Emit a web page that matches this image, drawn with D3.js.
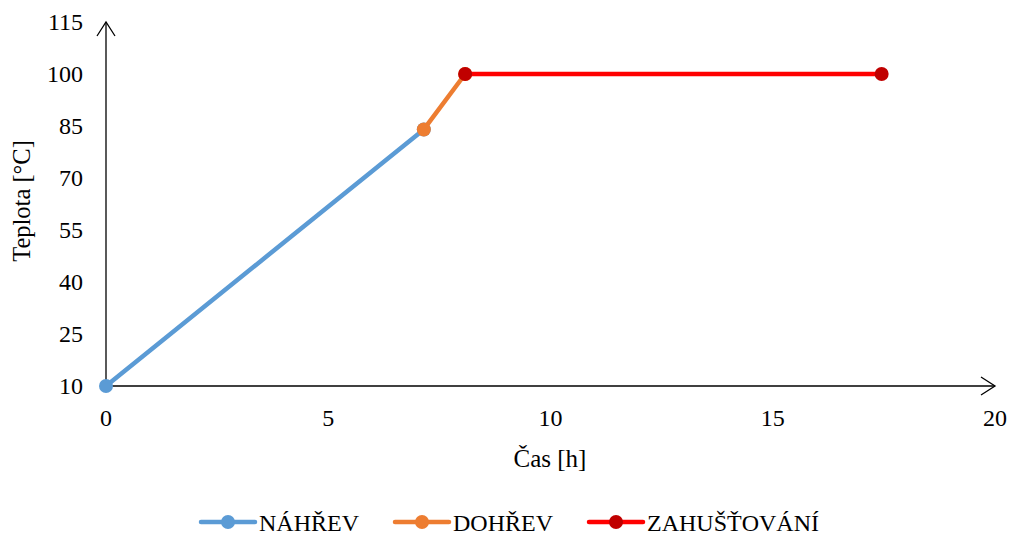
<!DOCTYPE html>
<html>
<head>
<meta charset="utf-8">
<script src="https://cdn.jsdelivr.net/npm/d3@7"></script>
<style>
  html, body { margin: 0; padding: 0; background: #fff; }
  svg text { font-family: "Liberation Serif", "Times New Roman", serif; fill: #000; }
</style>
</head>
<body>
<svg id="chart" width="1013" height="536"></svg>
<script>
// Process stages: time [h] and temperature [°C]
const seriesNames = ["NÁHŘEV", "DOHŘEV", "ZAHUŠŤOVÁNÍ"];
const nahrevTime = [0, 7.15];
const nahrevTemp = [10, 84];
const dohrevTime = [7.15, 8.08];
const dohrevTemp = [84, 100];
const zahustTime = [8.08, 17.45];
const zahustTemp = [100, 100];
const xTicks = [0, 5, 10, 15, 20];
const yTicks = [10, 25, 40, 55, 70, 85, 100, 115];

const lineColors = ["#5B9BD5", "#ED7D31", "#FF0000"];
const markerColors = ["#5B9BD5", "#ED7D31", "#C00000"];

const series = [
  { name: seriesNames[0], pts: nahrevTime.map((t, i) => [t, nahrevTemp[i]]) },
  { name: seriesNames[1], pts: dohrevTime.map((t, i) => [t, dohrevTemp[i]]) },
  { name: seriesNames[2], pts: zahustTime.map((t, i) => [t, zahustTemp[i]]) }
];

const svg = d3.select("#chart");
const x = d3.scaleLinear().domain([0, 20]).range([106, 995]);
const y = d3.scaleLinear().domain([10, 115]).range([386, 22]);

// Axes with open arrow heads, no tick marks
const axes = svg.append("g").attr("stroke", "#000").attr("stroke-width", 1.3).attr("fill", "none");
axes.append("line").attr("x1", x(0)).attr("x2", x(20)).attr("y1", y(10)).attr("y2", y(10));
axes.append("line").attr("x1", x(0)).attr("x2", x(0)).attr("y1", y(10)).attr("y2", y(115));
axes.append("path").attr("d", `M${x(20) - 14},${y(10) - 9} L${x(20)},${y(10)} L${x(20) - 14},${y(10) + 9}`);
axes.append("path").attr("d", `M${x(0) - 9},${y(115) + 14} L${x(0)},${y(115)} L${x(0) + 9},${y(115) + 14}`);

// Tick labels
svg.append("g").selectAll("text").data(yTicks).join("text")
  .attr("x", 83).attr("y", d => y(d) + 8)
  .attr("text-anchor", "end").attr("font-size", 24)
  .text(d => d);
svg.append("g").selectAll("text").data(xTicks).join("text")
  .attr("x", d => x(d)).attr("y", 426)
  .attr("text-anchor", "middle").attr("font-size", 24)
  .text(d => d);

// Axis titles
svg.append("text").attr("x", 550).attr("y", 467).attr("text-anchor", "middle")
  .attr("font-size", 25).text("Čas [h]");
svg.append("text").attr("transform", "translate(30,201) rotate(-90)")
  .attr("text-anchor", "middle").attr("font-size", 24.5).text("Teplota [°C]");

// Series lines and markers
const line = d3.line().x(d => x(d[0])).y(d => y(d[1]));
series.forEach((s, i) => {
  const g = svg.append("g");
  g.append("path").attr("d", line(s.pts)).attr("fill", "none")
    .attr("stroke", lineColors[i]).attr("stroke-width", 4.5).attr("stroke-linecap", "round");
  g.selectAll("circle").data(s.pts).join("circle")
    .attr("cx", d => x(d[0])).attr("cy", d => y(d[1])).attr("r", 7)
    .attr("fill", markerColors[i]);
});

// Legend
const legendX = [201, 395, 589];
const lg = svg.append("g");
series.forEach((s, i) => {
  const lx = legendX[i], ly = 522;
  lg.append("line").attr("x1", lx).attr("x2", lx + 54).attr("y1", ly).attr("y2", ly)
    .attr("stroke", lineColors[i]).attr("stroke-width", 4.5).attr("stroke-linecap", "round");
  lg.append("circle").attr("cx", lx + 27).attr("cy", ly).attr("r", 7).attr("fill", markerColors[i]);
  lg.append("text").attr("x", lx + 58).attr("y", ly + 9).attr("font-size", 24).text(s.name);
});
</script>
</body>
</html>
